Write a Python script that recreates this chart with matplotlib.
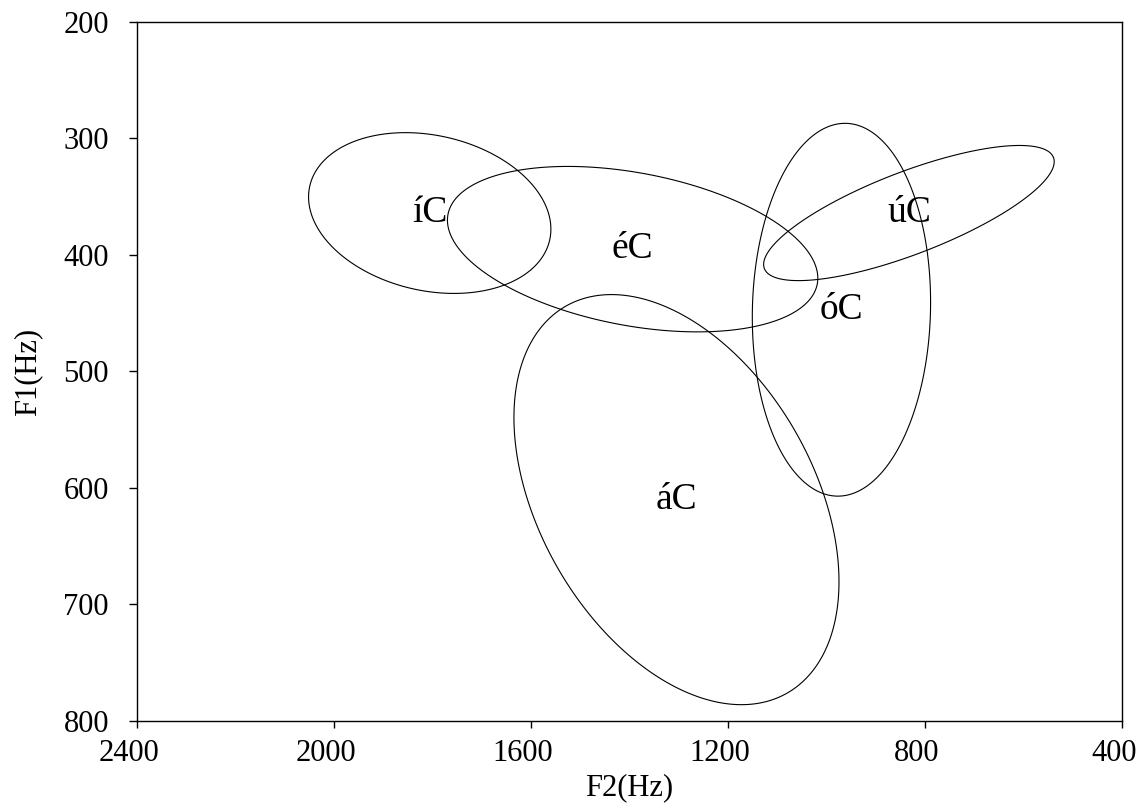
import numpy as np
import matplotlib.pyplot as plt
from matplotlib.patches import Polygon
from matplotlib.transforms import ScaledTranslation

plt.rcParams['font.family'] = ['Liberation Serif', 'DejaVu Serif']

# vowel ellipses (Hz): centre, half-range on each axis, and F2/F1 correlation
vowels = ['íC', 'éC', 'áC', 'óC', 'úC']
f2_center = [1805, 1393, 1304, 969, 832]
f1_center = [364, 395, 610, 447, 364]
f2_radius = [246, 376, 330, 181, 295]
f1_radius = [69, 71, 176, 160, 58]
rho = [-0.20, -0.35, -0.40, 0.04, 0.76]

f2_ticks = [2400, 2000, 1600, 1200, 800, 400]
f1_ticks = [200, 300, 400, 500, 600, 700, 800]


def ellipse_points(cx, cy, rx, ry, r, n=400):
    """Parametric ellipse: x = cx + rx cos t, y = cy + ry cos(t + phi), cos(phi) = r."""
    t = np.linspace(0, 2 * np.pi, n, endpoint=False)
    phi = np.arccos(r)
    x = cx + rx * np.cos(t)
    y = cy + ry * np.cos(t + phi)
    return np.column_stack([x, y])


fig = plt.figure(figsize=(11.42, 8.08), dpi=100)
ax = fig.add_axes([0.1197, 0.1077, 0.8625, 0.8651])

for i, v in enumerate(vowels):
    pts = ellipse_points(f2_center[i], f1_center[i], f2_radius[i], f1_radius[i], rho[i])
    ax.add_patch(Polygon(pts, closed=True, fill=False, edgecolor='black', lw=0.8))
    ax.text(f2_center[i], f1_center[i], v, fontsize=27, ha='center', va='center')

ax.set_xlim(2400, 400)
ax.set_ylim(800, 200)
ax.set_xticks(f2_ticks)
ax.set_yticks(f1_ticks)
ax.tick_params(axis='both', labelsize=22, width=1, direction='out')
ax.tick_params(axis='x', length=5, pad=8)
ax.tick_params(axis='y', length=6, pad=14)
for s in ax.spines.values():
    s.set_linewidth(1)

# x tick labels sit a little left of their ticks in the original
shift = ScaledTranslation(-8 / 100, 0, fig.dpi_scale_trans)
for lab in ax.get_xticklabels():
    lab.set_transform(lab.get_transform() + shift)

ax.set_xlabel('F2(Hz)', fontsize=22, labelpad=4)
ax.set_ylabel('F1(Hz)', fontsize=22, labelpad=15)

fig.savefig('out.png', dpi=100)
